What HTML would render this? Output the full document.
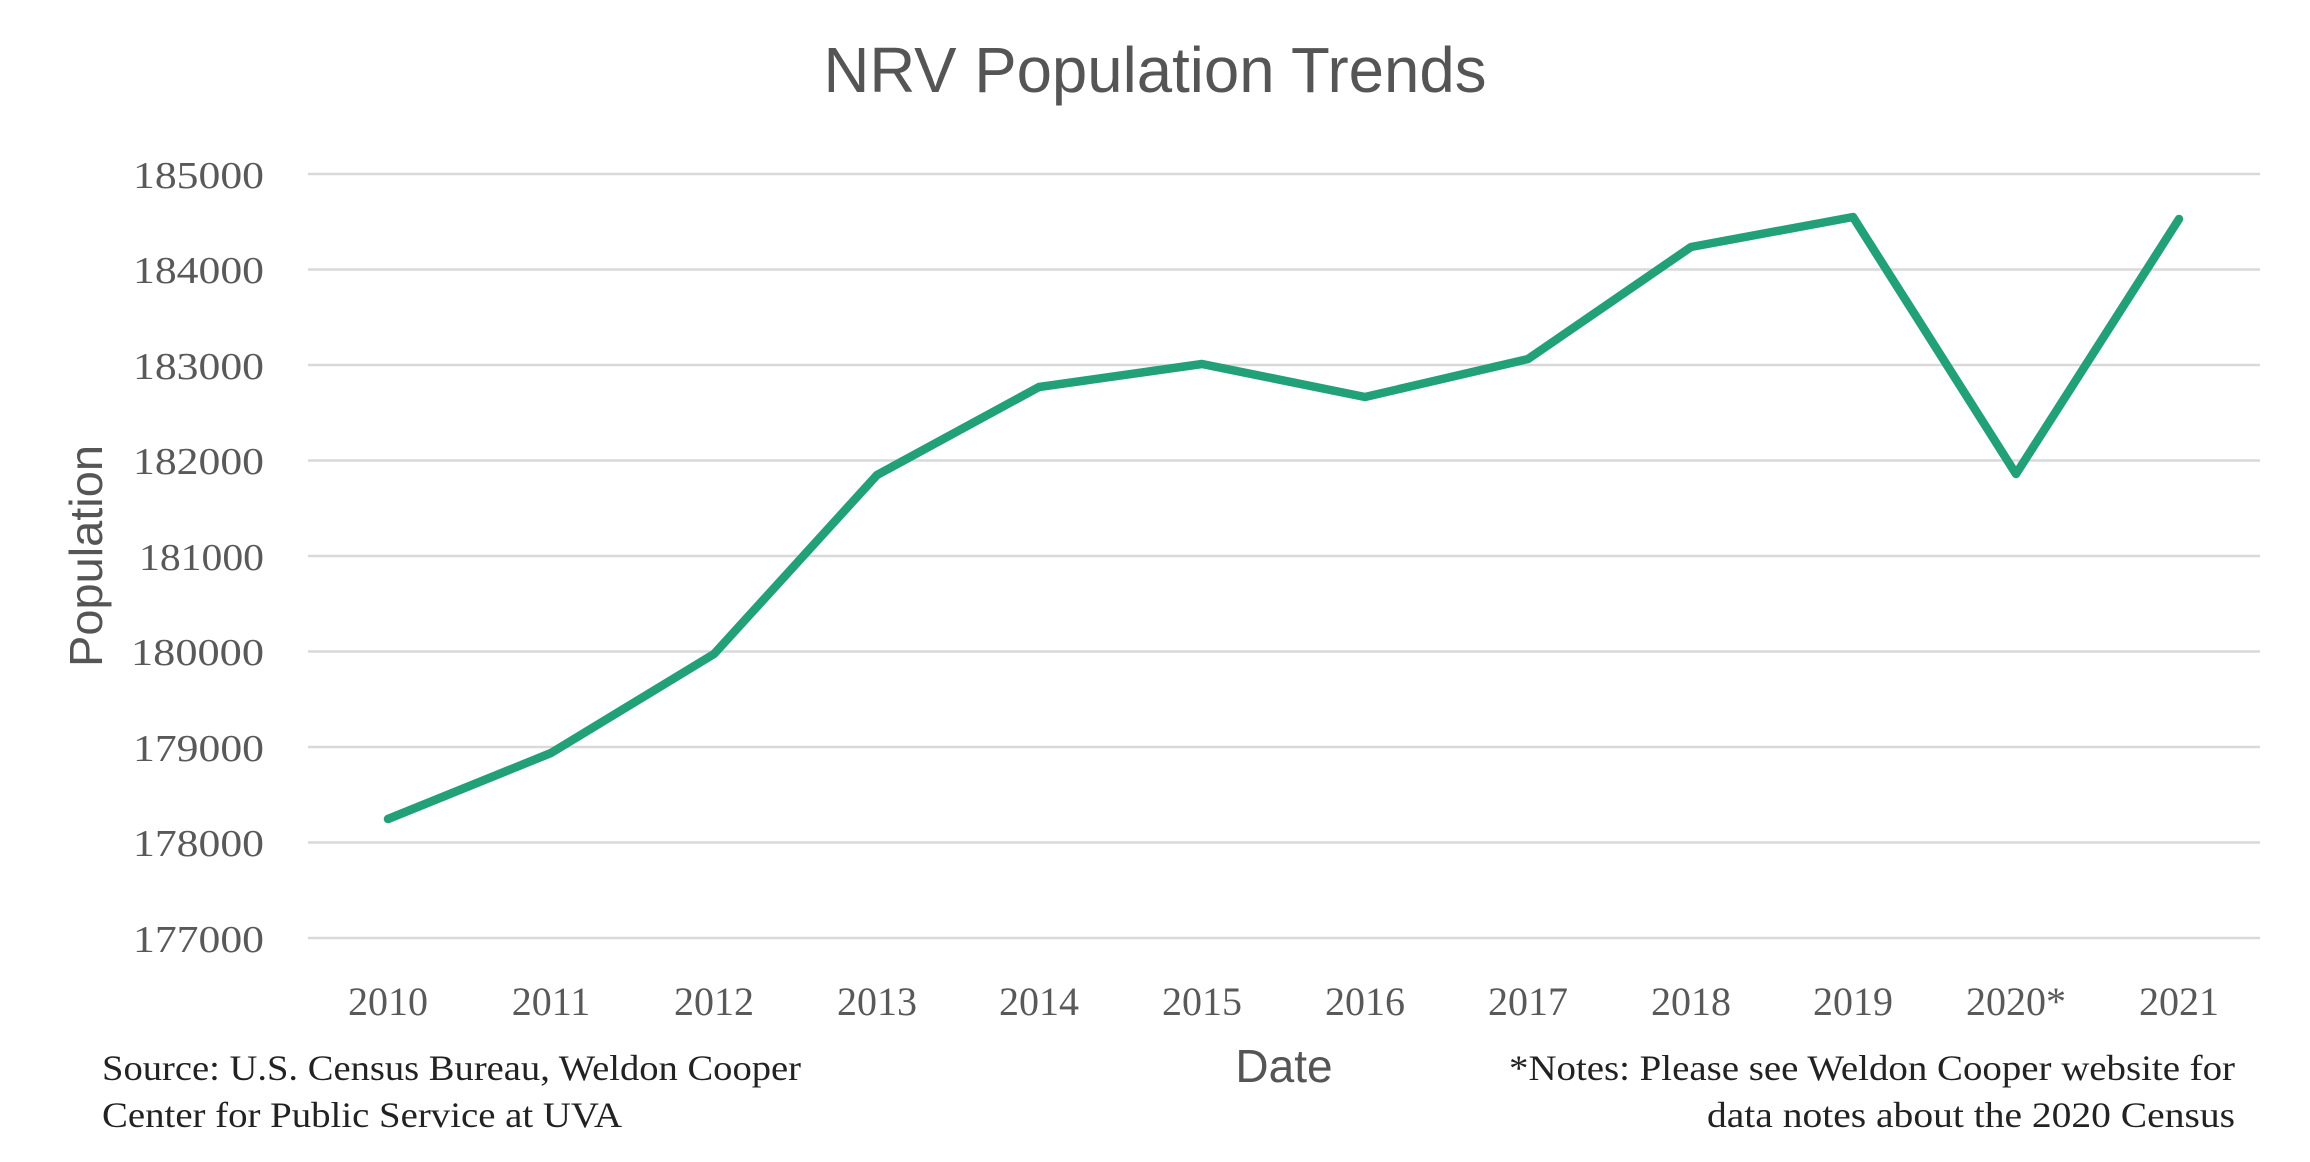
<!DOCTYPE html>
<html><head><style>
body{margin:0;background:#fff;}
</style></head><body>
<svg width="2310" height="1157" xmlns="http://www.w3.org/2000/svg">
<rect width="2310" height="1157" fill="#fff"/>
<text x="1155" y="92" text-anchor="middle" font-family="Liberation Sans, sans-serif" font-size="64" fill="#555" textLength="663" lengthAdjust="spacingAndGlyphs">NRV Population Trends</text>
<g stroke="#d9d9d9" stroke-width="2.5">
<line x1="308" x2="2260" y1="174" y2="174"/>
<line x1="308" x2="2260" y1="269.5" y2="269.5"/>
<line x1="308" x2="2260" y1="365" y2="365"/>
<line x1="308" x2="2260" y1="460.5" y2="460.5"/>
<line x1="308" x2="2260" y1="556" y2="556"/>
<line x1="308" x2="2260" y1="651.5" y2="651.5"/>
<line x1="308" x2="2260" y1="747" y2="747"/>
<line x1="308" x2="2260" y1="842.5" y2="842.5"/>
<line x1="308" x2="2260" y1="938" y2="938"/>
</g>
<g font-family="Liberation Serif, serif" font-size="38" fill="#595959" text-anchor="end">
<text x="264" y="188" textLength="131" lengthAdjust="spacingAndGlyphs">185000</text>
<text x="264" y="283" textLength="131" lengthAdjust="spacingAndGlyphs">184000</text>
<text x="264" y="379" textLength="131" lengthAdjust="spacingAndGlyphs">183000</text>
<text x="264" y="474" textLength="131" lengthAdjust="spacingAndGlyphs">182000</text>
<text x="264" y="570" textLength="125" lengthAdjust="spacingAndGlyphs">181000</text>
<text x="264" y="665" textLength="133" lengthAdjust="spacingAndGlyphs">180000</text>
<text x="264" y="761" textLength="131" lengthAdjust="spacingAndGlyphs">179000</text>
<text x="264" y="856" textLength="131" lengthAdjust="spacingAndGlyphs">178000</text>
<text x="264" y="952" textLength="131" lengthAdjust="spacingAndGlyphs">177000</text>
</g>
<g font-family="Liberation Serif, serif" font-size="40" fill="#595959" text-anchor="middle">
<text x="388" y="1015">2010</text>
<text x="551" y="1015">2011</text>
<text x="714" y="1015">2012</text>
<text x="877" y="1015">2013</text>
<text x="1039" y="1015">2014</text>
<text x="1202" y="1015">2015</text>
<text x="1365" y="1015">2016</text>
<text x="1528" y="1015">2017</text>
<text x="1691" y="1015">2018</text>
<text x="1853" y="1015">2019</text>
<text x="2016" y="1015">2020*</text>
<text x="2179" y="1015">2021</text>
</g>
<polyline fill="none" stroke="#22a078" stroke-width="8.5" stroke-linejoin="round" stroke-linecap="round"
points="388,819 551,753 714,654 877,475 1039,387 1202,364 1365,397 1528,359 1691,247 1853,217 2016,474 2179,219"/>
<text x="1284" y="1082" text-anchor="middle" font-family="Liberation Sans, sans-serif" font-size="46" fill="#555">Date</text>
<text transform="translate(102,556) rotate(-90)" text-anchor="middle" font-family="Liberation Sans, sans-serif" font-size="46" fill="#555" textLength="222" lengthAdjust="spacingAndGlyphs">Population</text>
<g font-family="Liberation Serif, serif" font-size="36" fill="#222">
<text x="102" y="1080" textLength="699" lengthAdjust="spacingAndGlyphs">Source: U.S. Census Bureau, Weldon Cooper</text>
<text x="102" y="1127" textLength="520" lengthAdjust="spacingAndGlyphs">Center for Public Service at UVA</text>
<text x="2235" y="1080" text-anchor="end" textLength="726" lengthAdjust="spacingAndGlyphs">*Notes: Please see Weldon Cooper website for</text>
<text x="2235" y="1127" text-anchor="end" textLength="528" lengthAdjust="spacingAndGlyphs">data notes about the 2020 Census</text>
</g>
</svg>
</body></html>
